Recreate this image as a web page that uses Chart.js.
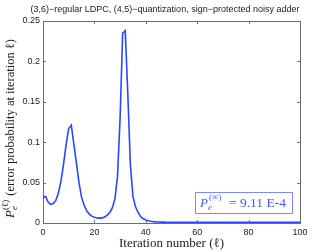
<!DOCTYPE html>
<html>
<head>
<meta charset="utf-8">
<script src="https://cdn.jsdelivr.net/npm/chart.js@4"></script>
<style>
  html, body { margin: 0; padding: 0; background: #fff; }
  #wrap { width: 332px; height: 252px; }
</style>
</head>
<body>
<div id="wrap"><canvas id="myChart" width="332" height="252"></canvas></div>
<script>
// error probability per iteration (iterations 0..100)
const pe = [
  0.031, 0.033, 0.026, 0.023, 0.024, 0.028, 0.037, 0.052, 0.073, 0.097,
  0.117, 0.121, 0.098, 0.074, 0.050, 0.032, 0.022, 0.015, 0.011, 0.0085,
  0.0070, 0.0062, 0.0060, 0.0063, 0.0075, 0.0098, 0.013, 0.019, 0.030, 0.058,
  0.130, 0.235, 0.238, 0.160, 0.072, 0.033, 0.020, 0.013, 0.0078, 0.0052,
  0.0038, 0.0028, 0.0021, 0.0017, 0.0014, 0.0012, 0.0011, 0.00105, 0.0010, 0.00097,
  0.00095, 0.00095, 0.00095, 0.00094, 0.00094, 0.00094, 0.00094, 0.00093, 0.00093, 0.00093,
  0.00093, 0.00093, 0.00092, 0.00092, 0.00092, 0.00092, 0.00092, 0.00092, 0.00092, 0.00092,
  0.00092, 0.00092, 0.00092, 0.000915, 0.000915, 0.000915, 0.000915, 0.000915, 0.000915, 0.000915,
  0.000915, 0.000915, 0.000912, 0.000912, 0.000912, 0.000912, 0.000912, 0.000912, 0.000912, 0.000912,
  0.000911, 0.000911, 0.000911, 0.000911, 0.000911, 0.000911, 0.000911, 0.000911, 0.000911, 0.000911,
  0.000911
];
const xTicks = [0, 20, 40, 60, 80, 100];
const yTicks = [0, 0.05, 0.1, 0.15, 0.2, 0.25];
const yTickLabels = ['0', '0.05', '0.1', '0.15', '0.2', '0.25'];
const titleText = '(3,6)\u2212regular LDPC, (4,5)\u2212quantization, sign\u2212protected noisy adder';
const peInfText = '= 9.11 E-4';

const axisColor = '#6e6e6e';
const lineColor = '#2b46ff';
const serif = '"Liberation Serif", "Times New Roman", serif';
const sans = '"Liberation Sans", Arial, sans-serif';

const points = pe.map((v, i) => ({ x: i, y: v }));

// box, inward ticks, titles and the annotation
const decorPlugin = {
  id: 'decor',
  beforeDatasetsDraw(chart) {
    const ctx = chart.ctx;
    const a = chart.chartArea;
    const xs = chart.scales.x, ys = chart.scales.y;
    ctx.save();
    ctx.strokeStyle = axisColor;
    ctx.lineWidth = 1;
    ctx.strokeRect(Math.round(a.left) + 0.5, Math.round(a.top) + 0.5,
      Math.round(a.right - a.left), Math.round(a.bottom - a.top));
    ctx.beginPath();
    xTicks.forEach(t => {
      const px = Math.round(xs.getPixelForValue(t)) + 0.5;
      ctx.moveTo(px, a.bottom); ctx.lineTo(px, a.bottom - 3);
      ctx.moveTo(px, a.top); ctx.lineTo(px, a.top + 3);
    });
    yTicks.forEach(t => {
      const py = Math.round(ys.getPixelForValue(t)) + 0.5;
      ctx.moveTo(a.left, py); ctx.lineTo(a.left + 3, py);
      ctx.moveTo(a.right, py); ctx.lineTo(a.right - 3, py);
    });
    ctx.stroke();
    ctx.restore();
  },
  afterDraw(chart) {
    const ctx = chart.ctx;
    const a = chart.chartArea;
    ctx.save();
    // title
    ctx.fillStyle = '#222';
    ctx.font = '9px ' + sans;
    ctx.textAlign = 'center';
    ctx.textBaseline = 'middle';
    ctx.fillText(titleText, 165, 10);

    // x label
    ctx.font = '13px ' + serif;
    ctx.textBaseline = 'alphabetic';
    ctx.fillText('Iteration number (\u2113)', (a.left + a.right) / 2, 247);

    // y label, rotated
    ctx.save();
    ctx.translate(14, 218);
    ctx.rotate(-Math.PI / 2);
    ctx.textAlign = 'left';
    let x = 0;
    ctx.font = 'italic 13px ' + serif;
    ctx.fillText('P', 0, 0); x += ctx.measureText('P').width;
    ctx.font = 'italic 9px ' + serif;
    ctx.fillText('e', x, 3);
    ctx.font = '9px ' + serif;
    ctx.fillText('(\u2113)', x, -6);
    x += ctx.measureText('(\u2113)').width + 1;
    ctx.font = '12.5px ' + serif;
    ctx.fillText(' (error probability at iteration \u2113)', x, 0);
    ctx.restore();

    // annotation box
    ctx.strokeStyle = '#7c88ff';
    ctx.lineWidth = 1;
    ctx.strokeRect(195.5, 192.5, 97, 21);
    ctx.fillStyle = '#3f57ff';
    ctx.textAlign = 'left';
    let bx = 200;
    ctx.font = 'italic 13px ' + serif;
    ctx.fillText('P', bx, 207); bx += ctx.measureText('P').width;
    ctx.font = 'italic 9px ' + serif;
    ctx.fillText('e', bx, 210);
    ctx.font = '9px ' + serif;
    ctx.fillText('(\u221e)', bx + 1, 200);
    ctx.font = '13.5px ' + serif;
    ctx.fillText(peInfText, 229, 207);
    ctx.restore();
  }
};

const ctx = document.getElementById('myChart').getContext('2d');
const myChart = new Chart(ctx, {
  type: 'line',
  data: {
    datasets: [{
      data: points,
      borderColor: lineColor,
      borderWidth: 1.6,
      pointRadius: 0,
      tension: 0,
      fill: false
    }]
  },
  options: {
    responsive: false,
    animation: false,
    layout: { padding: { top: 21, right: 32, left: 0, bottom: 0 } },
    plugins: { legend: { display: false }, tooltip: { enabled: false }, title: { display: false } },
    scales: {
      x: {
        type: 'linear',
        min: 0, max: 100,
        afterBuildTicks(scale) { scale.ticks = xTicks.map(v => ({ value: v })); },
        afterFit(scale) { scale.height = 29; },
        grid: { display: false, drawTicks: false },
        border: { display: false },
        ticks: { padding: 4, maxRotation: 0, color: '#222', font: { family: sans, size: 9 } }
      },
      y: {
        min: 0, max: 0.25,
        afterBuildTicks(scale) { scale.ticks = yTicks.map(v => ({ value: v })); },
        afterFit(scale) { scale.width = 43; },
        grid: { display: false, drawTicks: false },
        border: { display: false },
        ticks: {
          padding: 3, color: '#222', font: { family: sans, size: 9 },
          callback: (v) => { const i = yTicks.indexOf(v); return i >= 0 ? yTickLabels[i] : ''; }
        }
      }
    }
  },
  plugins: [decorPlugin]
});
</script>
</body>
</html>
